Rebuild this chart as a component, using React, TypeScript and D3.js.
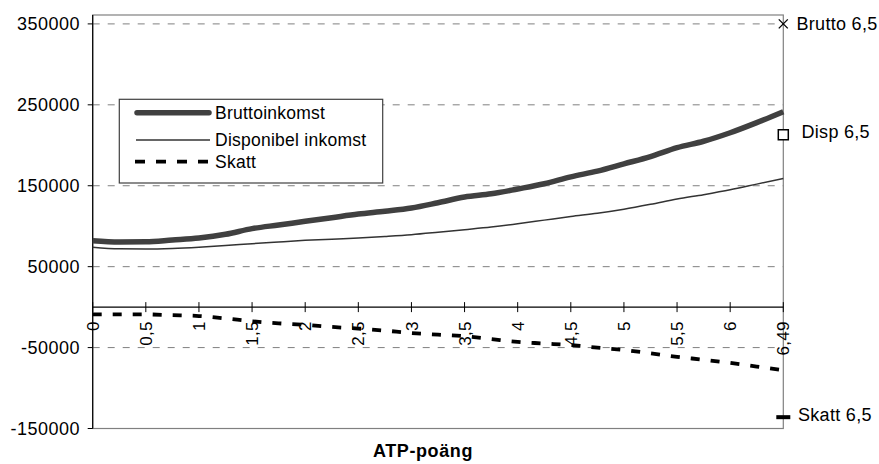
import React from "react";
import * as d3 from "d3";

const categories = ["0","0,25","0,5","0,75","1","1,25","1,5","1,75","2","2,25","2,5","2,75","3","3,25","3,5","3,75","4","4,25","4,5","4,75","5","5,25","5,5","5,75","6","6,25","6,49"];
const tickLabels = ["0","0,5","1","1,5","2","2,5","3","3,5","4","4,5","5","5,5","6","6,49"];
const brutto = [82000,80500,80700,83000,85500,90000,97000,101500,106000,110500,115000,118500,122500,129000,136000,140000,146000,152500,161000,168000,177000,186000,197000,205000,215500,228000,241500];
const disponibel = [74000,72000,71800,72500,74000,76000,78400,80500,82500,84000,85400,87300,89500,92500,95700,99000,103000,107500,112000,116000,121000,127000,133500,139000,145000,152000,159000];
const skatt = [-9000,-9000,-9000,-10000,-11000,-14000,-17500,-20000,-22000,-24500,-26500,-29000,-32000,-34000,-36000,-39500,-43000,-45000,-47000,-50000,-53000,-57000,-61500,-65000,-69000,-73500,-78000];
const yTicks = [350000,250000,150000,50000,-50000,-150000];
const gridValues = [350000,250000,150000,50000,-50000];
const markerNames = ["Brutto 6,5","Disp 6,5","Skatt 6,5"];
const markerValues = [350000,213000,-136000];
const legendNames = ["Bruttoinkomst","Disponibel inkomst","Skatt"];

const FONT = "'Liberation Sans', Arial, sans-serif";

export default function App() {
  const W = 879, H = 464;
  const left = 92.7, right = 783.3, top = 15, bottom = 428.5;
  const x = d3.scalePoint<string>().domain(categories).range([left, right]);
  const y = d3.scaleLinear().domain([-150000, 361000]).range([bottom, top]);
  const line = d3.line<number>().x((_, i) => x(categories[i])!).y(d => y(d)).curve(d3.curveMonotoneX);
  const x0 = y(0);
  const lastX = x(categories[categories.length - 1])!;
  const tickCats = categories.filter((_, i) => i % 2 === 0 || i === categories.length - 1);

  return (
    <svg width={W} height={H} style={{ position: "absolute", left: 0, top: 0, background: "#fff" }} fontFamily={FONT}>
      <rect x={0} y={0} width={W} height={H} fill="#fff" />
      {/* plot border */}
      <rect x={left} y={top} width={right - left} height={bottom - top} fill="none" stroke="#808080" strokeWidth={1.2} />
      {/* grid */}
      {gridValues.map(v => (
        <line key={v} x1={left} x2={right} y1={y(v)} y2={y(v)} stroke="#808080" strokeWidth={1} strokeDasharray="7,8" />
      ))}
      {/* y axis */}
      <line x1={left} x2={left} y1={top} y2={bottom} stroke="#000" strokeWidth={1.2} />
      {yTicks.map(v => (
        <g key={v}>
          <line x1={left - 5} x2={left} y1={y(v)} y2={y(v)} stroke="#000" strokeWidth={1} />
          <text x={80} y={y(v)} dy="0.36em" textAnchor="end" fontSize={18} letterSpacing={0.5} fill="#000">{v}</text>
        </g>
      ))}
      {/* x axis */}
      <line x1={left} x2={right} y1={x0} y2={x0} stroke="#000" strokeWidth={1.2} />
      {tickCats.map((c, i) => (
        <g key={c}>
          <line x1={x(c)!} x2={x(c)!} y1={x0 - 5} y2={x0 + 5} stroke="#000" strokeWidth={1} />
          <text transform={`translate(${x(c)!},${x0 + 14}) rotate(-90)`} textAnchor="end" dy="0.36em" fontSize={17} letterSpacing={0.3} fill="#000">{tickLabels[i]}</text>
        </g>
      ))}
      {/* series */}
      <path d={line(disponibel)!} fill="none" stroke="#333" strokeWidth={1.5} />
      <path d={line(brutto)!} fill="none" stroke="#404040" strokeWidth={5.5} />
      <path d={line(skatt)!} fill="none" stroke="#000" strokeWidth={3.8} strokeDasharray="9,11" />
      {/* right-edge markers */}
      <g stroke="#000" strokeWidth={1.3}>
        <line x1={lastX - 4.5} x2={lastX + 4.5} y1={y(markerValues[0]) - 4.5} y2={y(markerValues[0]) + 4.5} />
        <line x1={lastX - 4.5} x2={lastX + 4.5} y1={y(markerValues[0]) + 4.5} y2={y(markerValues[0]) - 4.5} />
      </g>
      <rect x={lastX - 5} y={y(markerValues[1]) - 5} width={10} height={10} fill="#fff" stroke="#000" strokeWidth={1.5} />
      <rect x={lastX - 7} y={y(markerValues[2]) - 2} width={14} height={4} fill="#000" />
      <text x={796.5} y={y(markerValues[0])} dy="0.36em" fontSize={18} letterSpacing={0.3}>{markerNames[0]}</text>
      <text x={801.5} y={y(markerValues[1]) - 3} dy="0.36em" fontSize={18} letterSpacing={0.3}>{markerNames[1]}</text>
      <text x={798} y={y(markerValues[2]) - 2.5} dy="0.36em" fontSize={18} letterSpacing={0.3}>{markerNames[2]}</text>
      {/* legend */}
      <rect x={119.3} y={99.3} width={263.4} height={83.7} fill="#fff" stroke="#404040" strokeWidth={1.2} />
      <line x1={137} x2={209} y1={112.7} y2={112.7} stroke="#404040" strokeWidth={5.5} strokeLinecap="round" />
      <line x1={136} x2={210} y1={140} y2={140} stroke="#333" strokeWidth={1.5} />
      <line x1={135} x2={210} y1={161.7} y2={161.7} stroke="#000" strokeWidth={3.8} strokeDasharray="10,11" />
      {legendNames.map((n, i) => (
        <text key={n} x={215} y={[112.7, 140, 161.7][i]} dy="0.36em" fontSize={17.5} letterSpacing={0.25} fill="#000">{n}</text>
      ))}
      {/* x title */}
      <text x={423} y={451} dy="0.36em" textAnchor="middle" fontSize={18} fontWeight="bold" letterSpacing={0.6}>ATP-poäng</text>
    </svg>
  );
}
